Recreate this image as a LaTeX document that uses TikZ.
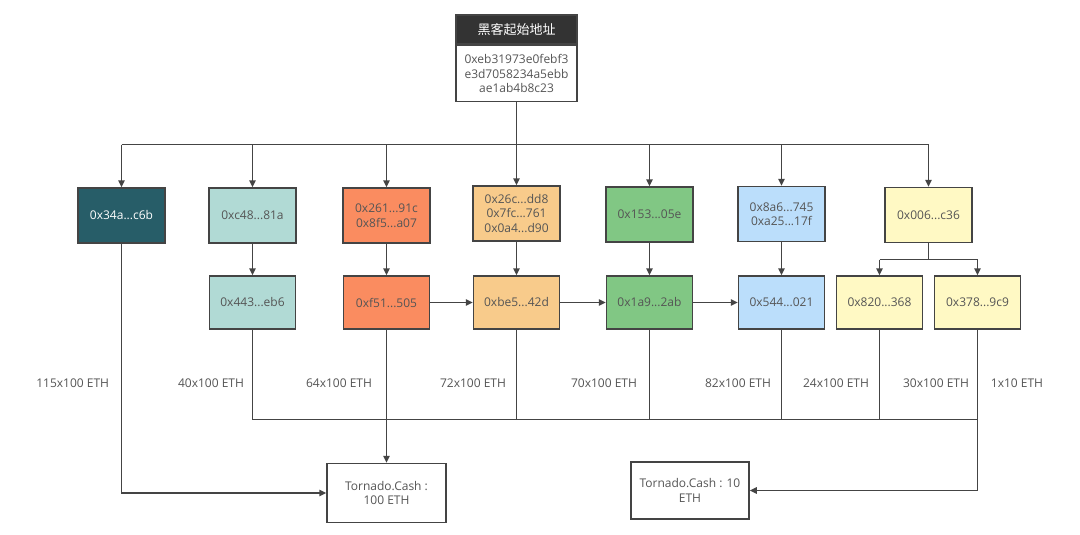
\documentclass[tikz,border=0pt]{standalone}
\usepackage{fontspec}
\setmainfont{Open Sans}
\newfontfamily\cjk{Noto Sans CJK SC}
\usetikzlibrary{arrows.meta,calc}
\definecolor{linec}{HTML}{444444}
\definecolor{txt}{HTML}{555555}
\definecolor{cdark}{HTML}{275D68}
\definecolor{cteal}{HTML}{B1DAD5}
\definecolor{corange}{HTML}{FA8C60}
\definecolor{clorange}{HTML}{F8CB8B}
\definecolor{cgreen}{HTML}{81C784}
\definecolor{cblue}{HTML}{BBDEFB}
\definecolor{cyellow}{HTML}{FFF9C4}
\definecolor{chead}{HTML}{333333}
\tikzset{
  box/.style={draw=linec, line width=1.5pt, rectangle, align=center, text=txt,
    minimum width=87pt, minimum height=55pt, inner sep=1pt,
    font=\fontsize{12}{14.5}\selectfont},
  rowtwo/.style={box, minimum width=86pt, minimum height=53pt},
  tcbox/.style={box, fill=white, minimum width=119pt, minimum height=59pt},
  conn/.style={draw=linec, line width=1.5pt},
  arr/.style={conn, -{Triangle[length=7pt,width=6.5pt]}},
  amount/.style={text=txt, font=\fontsize{12}{14}\selectfont, inner sep=0pt},
}
\begin{document}
\begin{tikzpicture}[x=1pt,y=-1pt]
\useasboundingbox[fill=white] (0,0) rectangle (1080,535);
% top node
\node[draw=linec, line width=1.5pt, fill=chead, minimum width=121pt, minimum height=29pt, inner sep=0pt,
  text=white, font=\cjk\fontsize{13}{15}\selectfont] (head) at (516.5,29.5) {黑客起始地址};
\node[box, fill=white, minimum width=121pt, minimum height=56pt, anchor=north] (top) at (head.south)
  {0xeb31973e0febf3\\e3d7058234a5ebb\\ae1ab4b8c23};
% row 1
\node[box, fill=cdark, text=white] (a1) at (121.5,215.5) {0x34a...c6b};
\node[box, fill=cteal] (a2) at (252.5,215.5) {0xc48...81a};
\node[box, fill=corange] (a3) at (386.5,215.5) {0x261...91c\\0x8f5...a07};
\node[box, fill=clorange] (a4) at (516.5,213.5) {0x26c...dd8\\0x7fc...761\\0x0a4...d90};
\node[box, fill=cgreen] (a5) at (649.5,214.5) {0x153...05e};
\node[box, fill=cblue] (a6) at (781.5,214) {0x8a6...745\\0xa25...17f};
\node[box, fill=cyellow] (a7) at (928.5,215) {0x006...c36};
% row 2
\node[rowtwo, fill=cteal] (b2) at (252.5,302.5) {0x443...eb6};
\node[rowtwo, fill=corange] (b3) at (386.5,302.5) {0xf51...505};
\node[rowtwo, fill=clorange] (b4) at (516.5,302.5) {0xbe5...42d};
\node[rowtwo, fill=cgreen] (b5) at (649.5,302.5) {0x1a9...2ab};
\node[rowtwo, fill=cblue] (b6) at (781.5,302.5) {0x544...021};
\node[rowtwo, fill=cyellow] (b7) at (879.5,302.5) {0x820...368};
\node[rowtwo, fill=cyellow] (b8) at (977.5,302.5) {0x378...9c9};
% tornado
\node[tcbox] (t1) at (386.5,493) {Tornado.Cash :\\100 ETH};
\node[tcbox, minimum width=118pt, minimum height=57pt] (t2) at (690,490.5) {Tornado.Cash : 10\\ETH};
% amounts
\node[amount] (m1) at (72.7,383) {115x100 ETH};
\node[amount] (m2) at (211,383) {40x100 ETH};
\node[amount] (m3) at (339,383) {64x100 ETH};
\node[amount] (m4) at (473,383) {72x100 ETH};
\node[amount] (m5) at (604,383) {70x100 ETH};
\node[amount] (m6) at (738,383) {82x100 ETH};
\node[amount] (m7) at (836,383) {24x100 ETH};
\node[amount] (m8) at (936,383) {30x100 ETH};
\node[amount] (m9) at (1017,383) {1x10 ETH};
% coordinates
\coordinate (bus) at (516.5,144.5);
\coordinate (split) at (928.5,259.5);
\coordinate (bot) at (386.5,419.5);
% top distribution
\draw[conn] (bus -| a1) -- (bus -| a7);
\draw[arr] (top.south) -- (a4.north);
\foreach \n in {a1,a2,a3,a5,a6,a7} \draw[arr] (bus -| \n) -- (\n.north);
% row1 -> row2
\draw[arr] (a2.south) -- (b2.north);
\draw[arr] (a3.south) -- (b3.north);
\draw[arr] (a4.south) -- (b4.north);
\draw[arr] (a5.south) -- (b5.north);
\draw[arr] (a6.south) -- (b6.north);
\draw[conn] (a7.south) -- (split);
\draw[conn] (split -| b7) -- (split -| b8);
\draw[arr] (split -| b7) -- (b7.north);
\draw[arr] (split -| b8) -- (b8.north);
% row2 chain
\draw[arr] (b3.east) -- (b4.west);
\draw[arr] (b4.east) -- (b5.west);
\draw[arr] (b5.east) -- (b6.west);
% bottom bus
\foreach \n in {b2,b4,b5,b6,b7} \draw[conn] (\n.south) -- (bot -| \n);
\draw[conn] (bot -| b2) -- (bot -| b8);
\draw[arr] (b3.south) -- (t1.north);
\draw[arr] (a1.south) |- (t1.west);
\draw[arr] (b8.south) |- (t2.east);
\end{tikzpicture}
\end{document}
